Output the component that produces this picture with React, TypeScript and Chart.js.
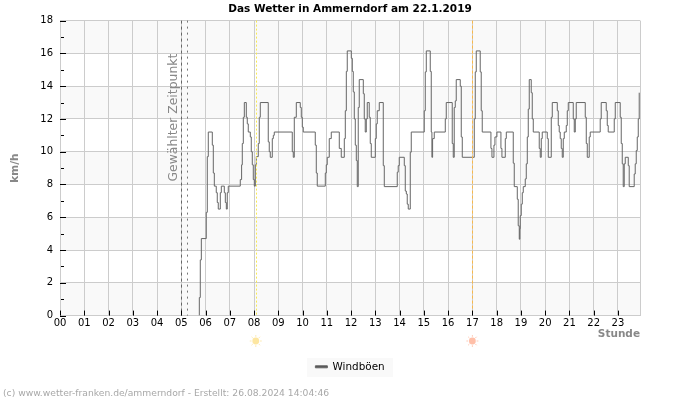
import React, { useEffect, useRef } from "react";
import { Chart, registerables } from "chart.js";

Chart.register(...registerables);

const chartTitle = "Das Wetter in Ammerndorf am 22.1.2019";
const seriesName = "Windböen";
const footerText = "(c) www.wetter-franken.de/ammerndorf - Erstellt: 26.08.2024 14:04:46";
const selectedText = "Gewählter Zeitpunkt";
const hourLabels = ["00","01","02","03","04","05","06","07","08","09","10","11","12","13","14","15","16","17","18","19","20","21","22","23"];
const minorYTicks = [1, 3, 5, 7, 9, 11, 13, 15, 17];
const bandStarts = [0, 4, 8, 12, 16];
const selectedMinutes = [300.5, 315];
const sunriseMinute = 485.5;
const sunsetMinute = 1020;
const axisEndMinute = 1434.6;

// minute of the day at which each reading starts
const minutes = [
  344.6,344.6,347,349.6,361.8,364.3,366.8,376.7,379.2,381.7,386.5,389,391.5,396.5,399,406.4,408.9,411.4,413.7,416.2,
  445.9,449.2,450.9,453.4,455.9,460.8,463.2,465.7,470.7,473.1,475.6,478.1,480.6,483.1,485.5,490.4,492.9,495.4,
  515.1,517.6,520.1,525.1,527.6,530,574.5,577,579.5,584.5,594.3,596.8,599.3,601.7,
  631.4,633.9,636.3,656.2,658.6,661,666,671,690.8,695.7,
  703.2,705.7,708.2,710.5,720.5,723,725.4,727.9,730.4,732.9,735.3,737.7,740.2,750.2,752.6,755,757.6,760,764.9,767.4,769.9,
  779.9,782.3,784.7,789.7,799.6,802.1,834.2,836.6,839.1,851.6,854,856.6,858.9,861.4,866.4,868.8,
  901,903.5,906,915.8,918.3,919.9,921.6,925.7,953,955.4,970.2,972.7,975.1,977.7,980.1,990,992.5,995,
  1024.7,1027.1,1029.6,1039.4,1041.9,1044.4,1065.9,1068.4,1073.3,1075.8,1080.7,1090.6,1093.1,1101.4,1103.9,
  1121.1,1123.6,1131.1,1133.4,1136,1137.4,1138.4,1140.9,1143.4,1145.9,1150.8,1153.3,1155.8,1158.2,1160.7,1165.6,1168.1,1170.6,
  1185.4,1187.9,1190.4,1192.8,1205.2,1207.7,1215.1,1217.6,1230,1232.4,1234.8,1237.3,1239.8,1242.3,1244.8,1247.3,1252.2,1254.7,1257.2,
  1269.5,1272,1274.5,1276.9,1299.2,1301.7,1304.2,1309,1311.5,1336.2,1338.7,1351.1,1353.6,1356,1370.9,1373.4,
  1385.7,1388.2,1390.7,1393.1,1395.6,1398.1,1405.6,1407.9,1420.3,1422.8,1425.3,1427.8,1430.3,1432.7,
];

const gusts = [
  0,1.1,3.4,4.7,6.3,9.7,11.2,10.4,8.7,7.9,7.5,6.9,6.5,7.5,7.9,7.5,6.9,6.5,7.5,7.9,
  8.3,9.2,10.5,12.1,13,12.1,11.7,11.2,10.9,10,9.2,8.3,7.9,9.2,9.7,10.5,12.1,13,
  10.6,10,9.66,10.8,11,11.2,10,9.66,12.1,13,12.7,12.1,11.5,11.2,
  10.4,8.7,7.9,8.7,9.2,9.66,10.8,11.2,10.2,9.66,
  10.8,12.5,14.9,16.15,15.7,14.9,13.65,12,10.4,9.46,7.87,12.7,14.4,13.54,12,11.2,12,13,12.1,10.5,9.66,
  10.8,11.7,12.5,13,9.15,7.87,8.75,9.15,9.66,9.15,7.6,7.42,6.8,6.5,9.97,11.2,
  12.5,14.87,16.15,14.9,11.2,9.66,10.8,11.2,12,13,10.5,9.66,12.7,13.1,14.4,14,10.9,9.66,
  12,14.87,16.15,14.87,12.5,11.2,10.2,9.66,10.4,10.9,11.2,10.2,9.66,10.8,11.2,
  9.3,7.87,7.1,5.48,4.66,5.3,6.1,6.8,7.5,7.87,8.34,9.26,10.9,12.6,14.4,13.6,12,11.2,
  10.2,9.66,10.8,11.2,10.8,9.66,12.1,13,12.5,11.6,11.2,10.8,10.2,9.66,10.8,11.2,11.6,12.5,13,
  12,11.2,12,13,12.1,10.5,9.66,10.9,11.2,12,13,12.5,11.6,11.2,12,13,
  12.1,10.5,9.26,7.87,9.26,9.66,9.15,7.87,8.64,9.26,10.07,10.9,12,13.6,
];

const FONT = "'DejaVu Sans'";

function drawSun(ctx: CanvasRenderingContext2D, x: number, y: number, color: string) {
  ctx.save();
  ctx.fillStyle = color;
  ctx.strokeStyle = color;
  ctx.beginPath();
  ctx.arc(x, y, 3.4, 0, Math.PI * 2);
  ctx.fill();
  ctx.globalAlpha = 0.8;
  ctx.lineWidth = 1;
  for (let i = 0; i < 8; i++) {
    const a = (i * Math.PI) / 4;
    ctx.beginPath();
    ctx.moveTo(x + Math.cos(a) * 4.2, y + Math.sin(a) * 4.2);
    ctx.lineTo(x + Math.cos(a) * 6, y + Math.sin(a) * 6);
    ctx.stroke();
  }
  ctx.restore();
}

const decorPlugin = {
  id: "decor",
  beforeDraw(chart: any) {
    const { ctx, chartArea, scales, legend } = chart;
    const y = scales.y;
    ctx.save();
    ctx.fillStyle = "#f9f9f9";
    bandStarts.forEach((v) => {
      const top = y.getPixelForValue(v + 2);
      const bot = y.getPixelForValue(v);
      ctx.fillRect(chartArea.left, top, chartArea.right - chartArea.left, bot - top);
    });
    if (legend) {
      const cx = (legend.left + legend.right) / 2;
      ctx.fillRect(cx - 43, 358, 86, 19);
    }
    ctx.restore();
  },
  afterDatasetsDraw(chart: any) {
    const { ctx, chartArea, scales } = chart;
    const x = scales.x;
    const y = scales.y;
    ctx.save();
    const vline = (m: number, color: string, dash: number[]) => {
      const px = Math.round(x.getPixelForValue(m)) + 0.5;
      ctx.strokeStyle = color;
      ctx.setLineDash(dash);
      ctx.lineWidth = 1;
      ctx.beginPath();
      ctx.moveTo(px, chartArea.top);
      ctx.lineTo(px, chartArea.bottom);
      ctx.stroke();
    };
    vline(selectedMinutes[0], "#666666", [3, 3]);
    vline(selectedMinutes[1], "#777777", [2, 4]);
    vline(sunriseMinute, "#f7ea55", [2, 2]);
    vline(sunsetMinute, "#f9b84a", [3, 2]);
    ctx.setLineDash([]);

    // inward ticks
    ctx.strokeStyle = "#000000";
    ctx.lineWidth = 1;
    hourLabels.forEach((_, i) => {
      const px = Math.round(x.getPixelForValue(i * 60)) + 0.5;
      ctx.beginPath();
      ctx.moveTo(px, chartArea.bottom - 5);
      ctx.lineTo(px, chartArea.bottom);
      ctx.stroke();
    });
    for (let v = 0; v <= 18; v += 2) {
      const py = Math.round(y.getPixelForValue(v)) + 0.5;
      ctx.beginPath();
      ctx.moveTo(chartArea.left, py);
      ctx.lineTo(chartArea.left + 6, py);
      ctx.stroke();
    }
    minorYTicks.forEach((v) => {
      const py = Math.round(y.getPixelForValue(v)) + 0.5;
      ctx.beginPath();
      ctx.moveTo(chartArea.left + 1, py);
      ctx.lineTo(chartArea.left + 4, py);
      ctx.stroke();
    });

    // label for the selected time
    ctx.save();
    ctx.translate(x.getPixelForValue(selectedMinutes[0]) - 7.5, y.getPixelForValue(12.08));
    ctx.rotate(-Math.PI / 2);
    ctx.font = `12.4px ${FONT}`;
    ctx.fillStyle = "#888888";
    ctx.textAlign = "center";
    ctx.textBaseline = "middle";
    ctx.fillText(selectedText, 0, 0);
    ctx.restore();

    drawSun(ctx, x.getPixelForValue(sunriseMinute) - 0.5, 341, "#fde6a0");
    drawSun(ctx, x.getPixelForValue(sunsetMinute), 341, "#ffbfa8");

    ctx.font = `9.2px ${FONT}`;
    ctx.fillStyle = "#a8a8a8";
    ctx.textAlign = "left";
    ctx.textBaseline = "middle";
    ctx.fillText(footerText, 3, 393.5);
    ctx.restore();
  },
};

export default function App() {
  const ref = useRef<HTMLCanvasElement>(null);
  useEffect(() => {
    document.body.style.margin = "0";
    Chart.defaults.font.family = FONT;
    const chart = new Chart(ref.current as HTMLCanvasElement, {
      type: "line",
      data: {
        datasets: [
          {
            label: seriesName,
            data: minutes.map((m, i) => ({ x: m, y: gusts[i] })),
            stepped: true,
            borderColor: "#666666",
            backgroundColor: "#555555",
            borderWidth: 1,
            pointRadius: 0,
            fill: false,
            yAxisID: "y",
          },
        ],
      },
      options: {
        responsive: false,
        animation: false,
        parsing: false,
        layout: { padding: { left: 0, right: 0, top: 0, bottom: 18 } },
        plugins: {
          title: {
            display: true,
            text: chartTitle,
            color: "#000000",
            font: { size: 10.5, weight: "bold", family: FONT },
            padding: { top: 3, bottom: 5 },
          },
          legend: {
            display: true,
            position: "bottom",
            labels: {
              color: "#000000",
              font: { size: 10.4, family: FONT },
              boxWidth: 12,
              boxHeight: 2,
              padding: 4,
            },
          },
          tooltip: { enabled: false },
        },
        scales: {
          x: {
            type: "linear",
            min: 0,
            max: axisEndMinute,
            afterFit: (s: any) => { s.height = 42; },
            afterBuildTicks: (s: any) => {
              s.ticks = hourLabels.map((_, i) => ({ value: i * 60 })).concat([{ value: axisEndMinute }]);
            },
            grid: { color: "#cccccc", drawTicks: false },
            border: { color: "#cccccc" },
            ticks: {
              autoSkip: false,
              maxRotation: 0,
              padding: 2,
              color: "#000000",
              font: { size: 10, family: FONT },
              callback: (v: any) => (Number(v) % 60 === 0 ? hourLabels[Number(v) / 60] : ""),
            },
            title: {
              display: true,
              text: "Stunde",
              align: "end",
              color: "#888888",
              font: { size: 10.5, weight: "bold", family: FONT },
              padding: { top: 0, bottom: 17 },
            },
          },
          y: {
            min: 0,
            max: 18,
            afterFit: (s: any) => { s.width = 60; },
            grid: { color: "#cccccc", drawTicks: false },
            border: { color: "#cccccc" },
            ticks: {
              stepSize: 2,
              padding: 7,
              color: "#000000",
              font: { size: 10, family: FONT },
            },
            title: {
              display: true,
              text: "km/h",
              color: "#888888",
              font: { size: 10.5, weight: "bold", family: FONT },
              padding: { top: 9, bottom: 0 },
            },
          },
          margin: {
            type: "linear",
            position: "right",
            afterFit: (s: any) => { s.width = 60; },
            grid: { display: false },
            border: { display: false },
            ticks: { display: false },
          },
        },
      },
      plugins: [decorPlugin],
    } as any);
    return () => chart.destroy();
  }, []);
  return <canvas ref={ref} width={700} height={400} style={{ display: "block" }} />;
}
